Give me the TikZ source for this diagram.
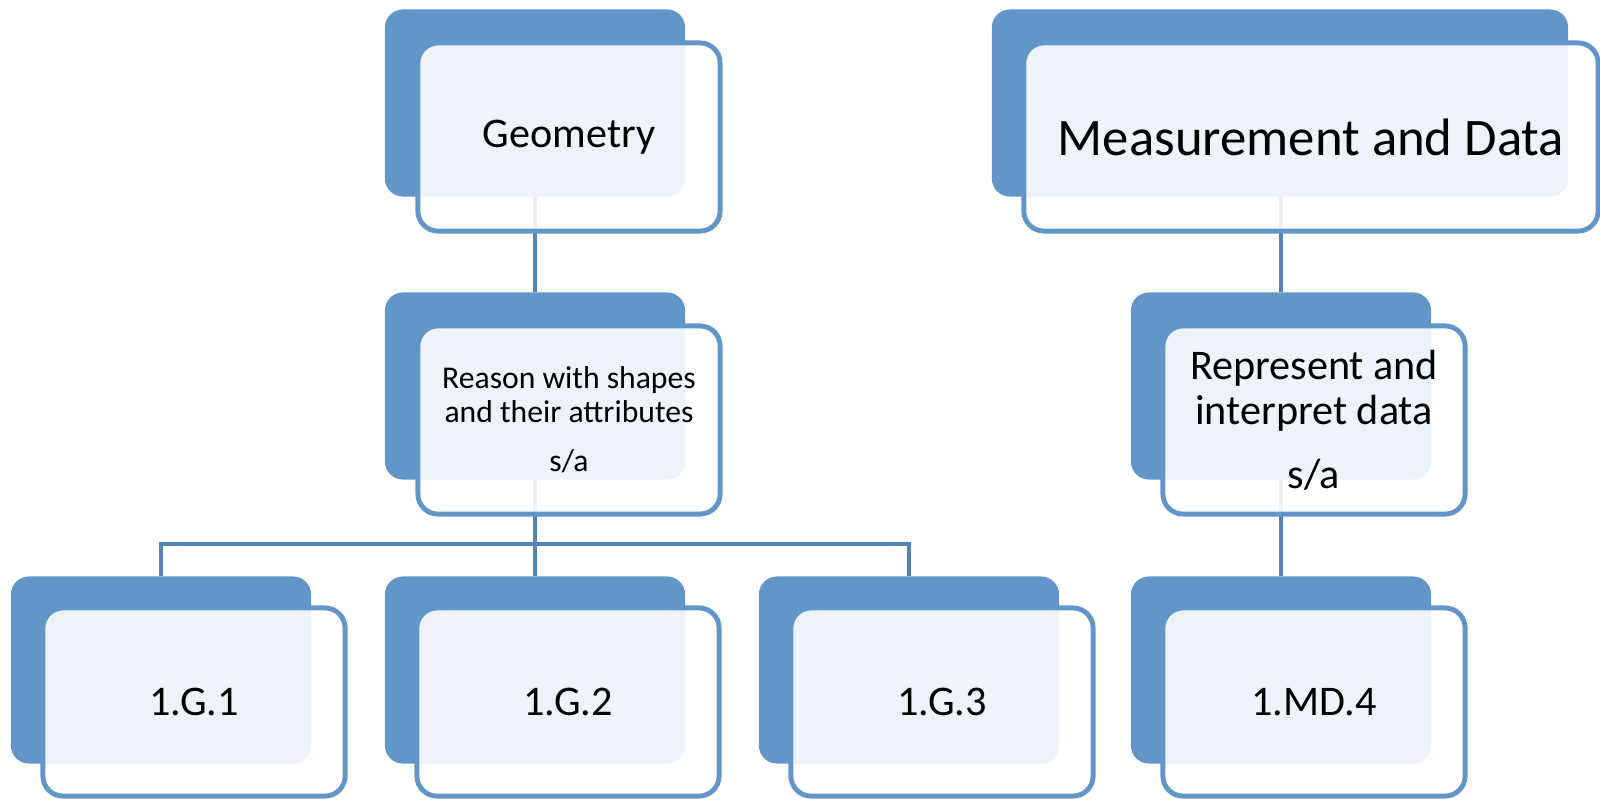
\documentclass[tikz,border=0pt]{standalone}
\usepackage{fontspec}
\setmainfont{Carlito}
\usetikzlibrary{positioning}
\definecolor{cardblue}{RGB}{98,150,200}
\definecolor{linkblue}{RGB}{84,130,180}
\pgfdeclarelayer{background}
\pgfsetlayers{background,main}

\begin{document}
\begin{tikzpicture}[x=0.01cm, y=-0.01cm,
	every back/.style={fill=cardblue, rounded corners=0.18cm, inner sep=0pt,
		minimum width=3cm, minimum height=1.87cm},
	every front/.style={draw=cardblue, line width=1.4pt, fill=white, fill opacity=0.89,
		text opacity=1, rounded corners=0.2cm, inner sep=0pt, align=center,
		minimum width=3.02cm, minimum height=1.88cm, font=\fontsize{12}{12.8}\selectfont},
	link/.style={draw=linkblue, line width=1.35pt}]
	\useasboundingbox (0,0) rectangle (1600,800);
	
	\node [every back/.try] (geometry-back) at (535,103) {};
	\node [every front/.try] (geometry) at (569,137) {\raisebox{-2pt}{Geometry}};
	
	\node [every back/.try, minimum width=5.76cm] (measure-back) at (1280,103) {};
	\node [every front/.try, minimum width=5.74cm, font=\fontsize{15}{18}\selectfont] (measure) at (1311,137) {\raisebox{-2pt}{Measurement and Data}};
	
	\node [every back/.try] (reason-back) at (535,386) {};
	\node [every front/.try, font=\fontsize{9}{9.7}\selectfont] (reason) at (569,420) {Reason with shapes\\and their attributes\\[4.3pt]s/a};
	
	\node [every back/.try] (data-back) at (1281,386) {};
	\node [every front/.try] (data) at (1314,420) {Represent and\\interpret data\\[5.4pt]s/a};
	
	\foreach \m/\x in {1/161, 2/535, 3/909} {
		\node [every back/.try] (g\m-back) at (\x,670) {};
		\node [every front/.try] (g\m) at (\x+33,702) {1.G.\m};
	}
	
	\node [every back/.try] (md4-back) at (1281,670) {};
	\node [every front/.try] (md4) at (1314,702) {1.MD.4};
	
	\begin{pgfonlayer}{background}
		\draw [link] (geometry-back.south) -- (reason-back.north);
		\draw [link] (measure-back.south) -| (data-back.north);
		\draw [link] (data-back.south) -- (md4-back.north);
		\coordinate (fork) at (535,544);
		\draw [link] (reason-back.south) -- (fork);
		\foreach \m in {1,2,3}
		\draw [link] (fork) -| (g\m-back.north);
	\end{pgfonlayer}
\end{tikzpicture}
\end{document}
